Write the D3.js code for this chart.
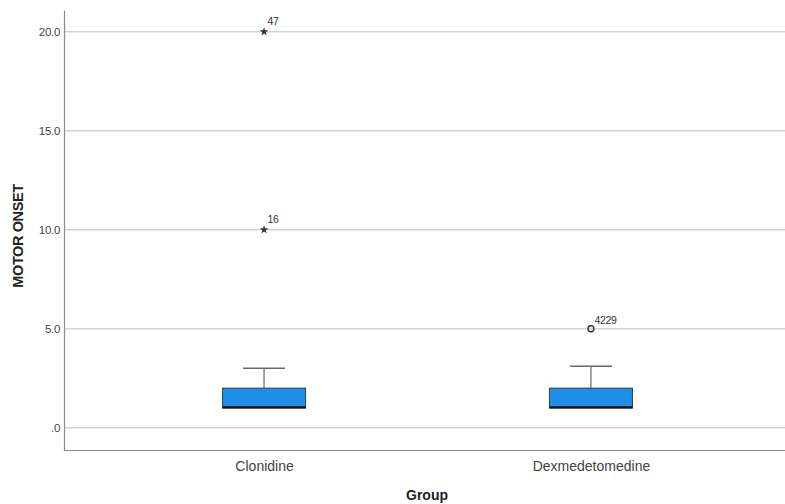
<!DOCTYPE html>
<html>
<head>
<meta charset="utf-8">
<script src="https://cdn.jsdelivr.net/npm/d3@7/dist/d3.min.js"></script>
<style>
  html, body { margin: 0; padding: 0; background: #fff; }
  svg { display: block; font-family: "Liberation Sans", Arial, sans-serif; }
</style>
</head>
<body>
<svg id="chart" width="785" height="504"></svg>
<script>
// Boxplot summary for MOTOR ONSET by Group
const groups = ["Clonidine", "Dexmedetomedine"];
const whiskerLow = [1, 1];
const q1 = [1, 1];
const median = [1, 1];
const q3 = [2, 2];
const whiskerHigh = [3, 3.1];
// Outliers: group index, value, case label, kind
const outlierGroup = [0, 0, 1];
const outlierValue = [20, 10, 5];
const outlierLabel = ["47", "16", "4229"];
const outlierKind = ["extreme", "extreme", "outlier"];
const yTicks = [0, 5, 10, 15, 20];

const svg = d3.select("#chart");
const plotLeft = 64, plotRight = 791, plotTop = 10, plotBottom = 450.5;

const y = d3.scaleLinear().domain([-1.15, 21.1]).range([plotBottom, plotTop]);
const x = d3.scalePoint().domain(groups).range([plotLeft, plotRight]).padding(0.612);
const boxW = 83, capW = 42;

// gridlines
svg.append("g").selectAll("line").data(yTicks).join("line")
  .attr("x1", plotLeft).attr("x2", 785)
  .attr("y1", d => y(d)).attr("y2", d => y(d))
  .attr("stroke", "#d4d4d4").attr("stroke-width", 1.5);

// y axis
const yAxis = d3.axisLeft(y).tickValues(yTicks)
  .tickFormat(d => d === 0 ? ".0" : d3.format(".1f")(d)).tickSize(0).tickPadding(4);
const gy = svg.append("g").attr("transform", `translate(${plotLeft},0)`).call(yAxis);
gy.select(".domain").attr("stroke", "#8a8a8a").attr("stroke-width", 1.2);
gy.selectAll("text").attr("fill", "#444").attr("font-size", 11.5).attr("letter-spacing", -0.3);

// x axis
const xAxis = d3.axisBottom(x).tickSize(0).tickPadding(11);
const gx = svg.append("g").attr("transform", `translate(0,${plotBottom})`).call(xAxis);
gx.select(".domain").attr("d", `M${plotLeft},0H785`).attr("stroke", "#8a8a8a").attr("stroke-width", 1.2);
gx.selectAll("text").attr("fill", "#444").attr("font-size", 14);

// axis titles
svg.append("text").attr("x", 427).attr("y", 500)
  .attr("text-anchor", "middle").attr("font-size", 14).attr("font-weight", "bold")
  .attr("fill", "#222").text("Group");
svg.append("text").attr("transform", "translate(23,236) rotate(-90)")
  .attr("text-anchor", "middle").attr("font-size", 14.5).attr("font-weight", "bold")
  .attr("letter-spacing", -0.4)
  .attr("fill", "#222").text("MOTOR ONSET");

// boxes
const boxes = svg.append("g").selectAll("g").data(groups).join("g");
boxes.each(function(g, i) {
  const sel = d3.select(this);
  const cx = x(g);
  // upper whisker
  sel.append("line").attr("x1", cx).attr("x2", cx)
    .attr("y1", y(q3[i])).attr("y2", y(whiskerHigh[i]))
    .attr("stroke", "#666").attr("stroke-width", 1.2);
  sel.append("line").attr("x1", cx - capW / 2).attr("x2", cx + capW / 2)
    .attr("y1", y(whiskerHigh[i])).attr("y2", y(whiskerHigh[i]))
    .attr("stroke", "#666").attr("stroke-width", 1.5);
  // lower whisker
  sel.append("line").attr("x1", cx).attr("x2", cx)
    .attr("y1", y(q1[i])).attr("y2", y(whiskerLow[i]))
    .attr("stroke", "#666").attr("stroke-width", 1.2);
  // box
  sel.append("rect").attr("x", cx - boxW / 2).attr("width", boxW)
    .attr("y", y(q3[i])).attr("height", y(q1[i]) - y(q3[i]))
    .attr("fill", "#1e8fe6").attr("stroke", "#3a3a3a").attr("stroke-width", 1);
  // median
  sel.append("line").attr("x1", cx - boxW / 2).attr("x2", cx + boxW / 2)
    .attr("y1", y(median[i]) - 0.5).attr("y2", y(median[i]) - 0.5)
    .attr("stroke", "#111").attr("stroke-width", 2.2);
});

// outliers
const star = d3.symbol().type(d3.symbolStar).size(24);
const out = svg.append("g").selectAll("g").data(outlierValue).join("g")
  .attr("transform", (d, i) => `translate(${x(groups[outlierGroup[i]])},${y(d)})`);
out.each(function(d, i) {
  const sel = d3.select(this);
  if (outlierKind[i] === "extreme") {
    sel.append("path").attr("d", star).attr("fill", "#333");
  } else {
    sel.append("circle").attr("r", 3).attr("fill", "none")
      .attr("stroke", "#333").attr("stroke-width", 1.4);
  }
  sel.append("text").attr("x", 3.5).attr("y", outlierKind[i] === "extreme" ? -7 : -5)
    .attr("font-size", 10.5).attr("letter-spacing", -0.3)
    .attr("fill", "#333").text(outlierLabel[i]);
});
</script>
</body>
</html>
